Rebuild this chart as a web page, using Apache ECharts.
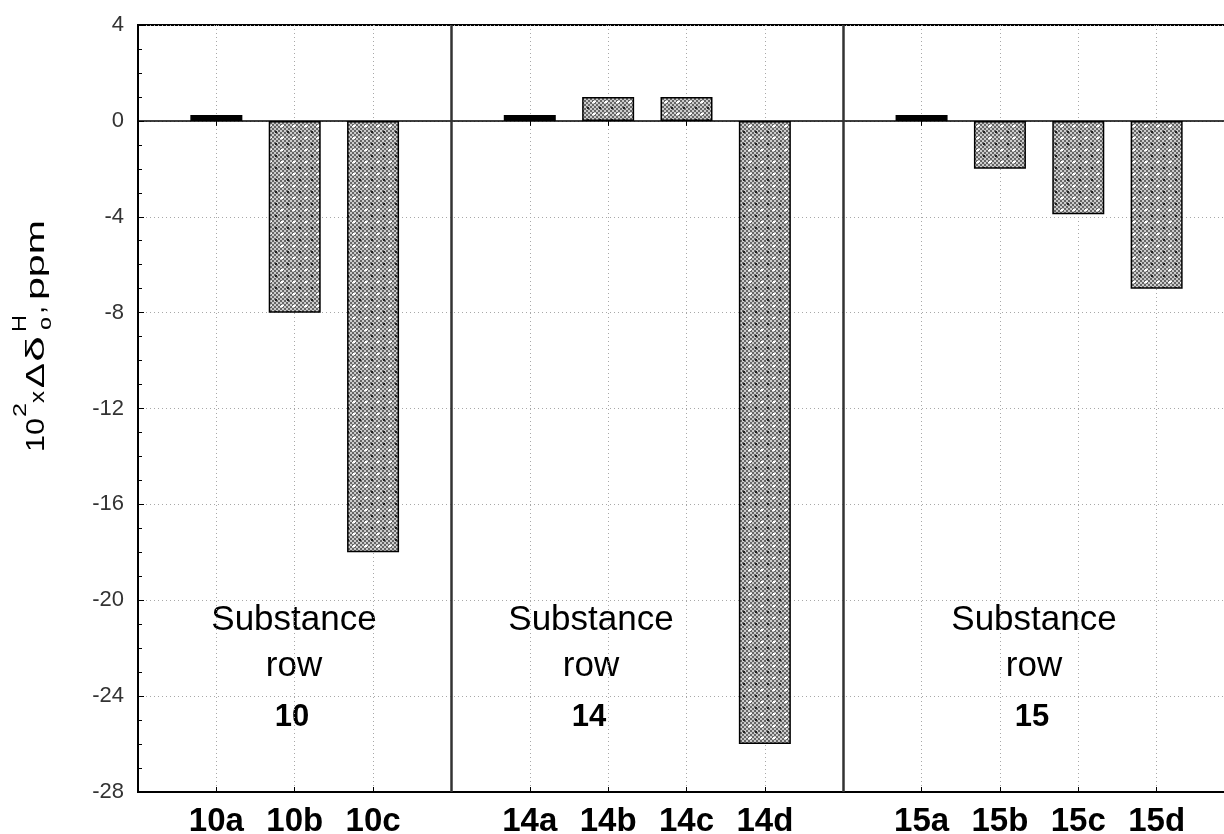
<!DOCTYPE html>
<html><head><meta charset="utf-8">
<script src="https://cdn.jsdelivr.net/npm/echarts@6/dist/echarts.min.js"></script>
<style>html,body{margin:0;padding:0;background:#fff}#chart{width:1224px;height:834px}</style>
</head><body><div id="chart"></div>
<script>
// ---------------- DATA ----------------
const groupNames = ['10', '14', '15'];
const labels10 = ['10a', '10b', '10c'];
const values10 = [0.25, -8, -18];
const labels14 = ['14a', '14b', '14c', '14d'];
const values14 = [0.25, 1, 1, -26];
const labels15 = ['15a', '15b', '15c', '15d'];
const values15 = [0.25, -2, -3.9, -7];
const yMin = -28, yMax = 4, yStep = 4;

// ---------------- BUILD ----------------
const groups = [[labels10, values10], [labels14, values14], [labels15, values15]];
const tickLabel = {};
const barData = [];
const sepPositions = [];
let pos = 1;
groups.forEach((g, gi) => {
  g[0].forEach((lab, i) => {
    tickLabel[pos] = lab;
    const v = g[1][i];
    const item = { value: [pos, v] };
    if (Math.abs(v) < 0.5) item.itemStyle = { color: '#000' };
    barData.push(item);
    pos++;
  });
  if (gi < groups.length - 1) { sepPositions.push(pos); pos++; }
});
const xMax = pos;

function makePattern() {
  const c = document.createElement('canvas');
  c.width = 12; c.height = 12;
  const g = c.getContext('2d');
  for (let y = 0; y < 12; y++) for (let x = 0; x < 12; x++) {
    const on = ((x >> 1) + (y >> 1)) % 2 === 0;
    g.fillStyle = on ? '#666666' : '#cccccc';
    g.fillRect(x, y, 1, 1);
  }
  g.fillStyle = '#ffffff';
  [[5,5],[6,6],[5,6],[6,5],[4,6],[7,5]].forEach(p => g.fillRect(p[0], p[1], 1, 1));
  g.fillStyle = '#222';
  [[0,0],[11,11],[0,11],[11,0]].forEach(p => g.fillRect(p[0], p[1], 1, 1));
  return c;
}
const pattern = { image: makePattern(), repeat: 'repeat' };

// ---------------- LAYOUT ----------------
const FONT = '"Liberation Sans", Arial, sans-serif';
const mctx = document.createElement('canvas').getContext('2d');
function measure(text, font) { mctx.font = font; return mctx.measureText(text).width; }

// y-axis title pieces: text, start, end (along reading direction), baseline offset, font size
const titlePieces = [
  ['10', 0, 34, 0, 25],
  ['2', 35, 49, -18, 19],
  ['x', 49, 61, 0, 21],
  ['\u0394', 64, 89, 0, 25],
  ['\u03B4', 90, 116, 0, 26],
  ['H', 120, 137, -18, 20],
  ['o', 122, 135, 7, 18],
  [',', 138, 146, 0, 25],
  ['ppm', 152, 232, 0, 25]
];
const titleChildren = titlePieces.map(p => {
  const font = p[4] + 'px ' + FONT;
  const w = measure(p[0], font);
  return {
    type: 'text', x: p[1], y: p[3] - 0.33 * p[4], scaleX: (p[2] - p[1]) / w,
    style: { text: p[0], font: font, fill: '#000', align: 'left', verticalAlign: 'middle' }
  };
});

const annoCenters = [294, 591, 1034];
const annoChildren = [];
groupNames.forEach((name, i) => {
  const cx = annoCenters[i];
  annoChildren.push({ type: 'text', x: cx, y: 632 - 0.33 * 35, style: { text: 'Substance', font: '35px ' + FONT, fill: '#000', align: 'center', verticalAlign: 'middle' } });
  annoChildren.push({ type: 'text', x: cx, y: 678 - 0.33 * 35, style: { text: 'row', font: '35px ' + FONT, fill: '#000', align: 'center', verticalAlign: 'middle' } });
  annoChildren.push({ type: 'text', x: cx - 2, y: 728 - 0.33 * 31, style: { text: name, font: 'bold 31px ' + FONT, fill: '#000', align: 'center', verticalAlign: 'middle' } });
});

const dotted = { color: '#a8a8a8', width: 1, type: [1, 3] };

const chart = echarts.init(document.getElementById('chart'), null, { renderer: 'canvas' });
chart.setOption({
  animation: false,
  backgroundColor: '#fff',
  grid: { left: 138, top: 25, right: -11, bottom: 42, show: true, borderColor: '#000', borderWidth: 2, containLabel: false, outerBoundsMode: 'none' },
  xAxis: [{
    type: 'value', position: 'bottom', min: 0, max: xMax, interval: 1,
    axisLine: { onZero: false, lineStyle: { color: '#000', width: 2 } },
    axisTick: { inside: true, length: 5, lineStyle: { color: '#000' } },
    axisLabel: { formatter: v => tickLabel[v] || '', fontFamily: FONT, fontWeight: 'bold', fontSize: 33, color: '#000', margin: 13, showMinLabel: false, showMaxLabel: false },
    splitLine: { show: true, lineStyle: dotted }
  }, {
    type: 'value', position: 'top', min: 0, max: xMax, interval: 1,
    axisLine: { onZero: true, lineStyle: { color: '#000', width: 1.5 } },
    axisTick: { inside: true, length: 5, lineStyle: { color: '#000' } },
    axisLabel: { show: false },
    splitLine: { show: false }
  }],
  yAxis: {
    type: 'value', min: yMin, max: yMax, interval: yStep,
    axisLine: { show: true, lineStyle: { color: '#000', width: 2 } },
    axisTick: { show: true, inside: true, length: 6, lineStyle: { color: '#000' } },
    minorTick: { show: true, splitNumber: 4, length: 4, lineStyle: { color: '#000' } },
    axisLabel: { fontFamily: FONT, fontSize: 22, color: '#333', margin: 14 },
    splitLine: { show: true, lineStyle: dotted }
  },
  series: [{
    type: 'bar', xAxisIndex: 0, barWidth: 52, data: barData,
    itemStyle: { color: pattern, borderColor: '#000', borderWidth: 1.5 },
    markLine: {
      silent: true, symbol: 'none', label: { show: false },
      lineStyle: { color: '#333', width: 2.5, type: 'solid' },
      emphasis: { disabled: true },
      data: sepPositions.map(p => ({ xAxis: p }))
    }
  }],
  graphic: [
    { type: 'group', x: 45, y: 452, rotation: Math.PI / 2, children: titleChildren },
    { type: 'group', children: annoChildren }
  ]
});
</script></body></html>
